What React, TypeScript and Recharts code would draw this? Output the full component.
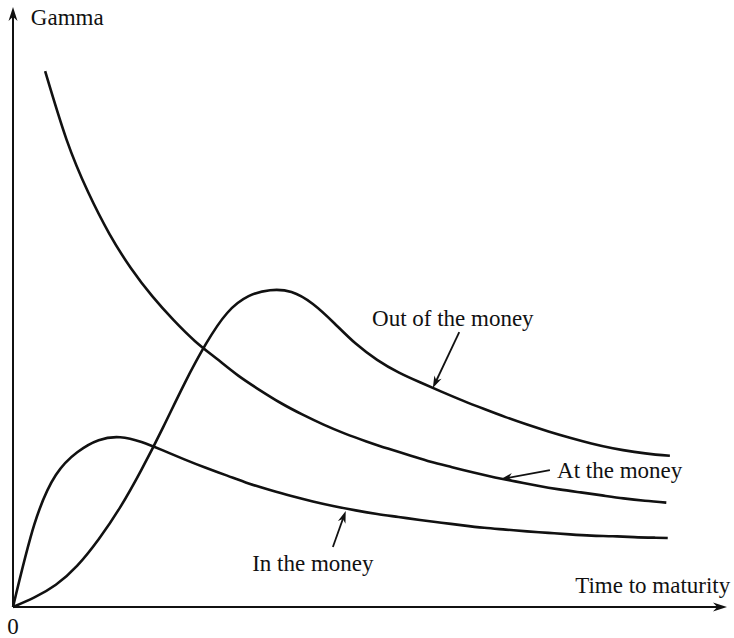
import React from 'react';
import { LineChart, Line, XAxis, YAxis, ReferenceLine, ReferenceDot } from 'recharts';

// time to maturity / gamma, arbitrary units (evenly spaced readings)
const atmTime = [0.45, 0.75, 1.05, 1.35, 1.65, 1.95, 2.25, 2.55, 2.85, 3.15, 3.45, 3.75, 4.05, 4.35, 4.65, 4.95, 5.25, 5.55, 5.85, 6.15, 6.45, 6.75, 7.05, 7.35, 7.65, 7.95, 8.25, 8.55, 8.85, 9.15];
const atmGamma = [8.93, 7.79, 6.92, 6.22, 5.65, 5.18, 4.78, 4.43, 4.14, 3.86, 3.62, 3.4, 3.21, 3.04, 2.89, 2.76, 2.64, 2.53, 2.42, 2.33, 2.24, 2.16, 2.09, 2.02, 1.96, 1.91, 1.86, 1.81, 1.77, 1.74];

const otmTime = [0, 0.3, 0.6, 0.9, 1.2, 1.5, 1.8, 2.1, 2.4, 2.7, 3.0, 3.3, 3.6, 3.9, 4.2, 4.5, 4.8, 5.1, 5.4, 5.7, 6.0, 6.3, 6.6, 6.9, 7.2, 7.5, 7.8, 8.1, 8.4, 8.7, 9.0, 9.2];
const otmGamma = [0, 0.16, 0.37, 0.69, 1.13, 1.66, 2.29, 2.99, 3.72, 4.38, 4.9, 5.18, 5.28, 5.25, 5.05, 4.73, 4.39, 4.12, 3.91, 3.745, 3.59, 3.44, 3.3, 3.165, 3.04, 2.925, 2.82, 2.725, 2.645, 2.585, 2.54, 2.52];

const itmTime = [0, 0.3, 0.6, 0.9, 1.2, 1.5, 1.8, 2.1, 2.4, 2.7, 3.0, 3.3, 3.6, 3.9, 4.2, 4.5, 4.8, 5.1, 5.4, 5.7, 6.0, 6.3, 6.6, 6.9, 7.2, 7.5, 7.8, 8.1, 8.4, 8.7, 9.0, 9.17];
const itmGamma = [0, 1.38, 2.2, 2.58, 2.78, 2.83, 2.75, 2.61, 2.46, 2.32, 2.19, 2.06, 1.95, 1.85, 1.76, 1.68, 1.61, 1.55, 1.5, 1.45, 1.405, 1.36, 1.32, 1.29, 1.26, 1.235, 1.21, 1.19, 1.18, 1.165, 1.155, 1.15];

// annotation arrows: [fromX, fromY, toX, toY]
const arrows = [
  [6.25, 4.58, 5.88, 3.65],
  [7.52, 2.28, 6.83, 2.13],
  [4.48, 1.0, 4.66, 1.6],
];

const labels = [
  { text: 'Gamma', x: 0.25, y: 9.83, anchor: 'start' },
  { text: 'Time to maturity', x: 8.96, y: 0.37, anchor: 'middle' },
  { text: '0', x: 0, y: -0.32, anchor: 'middle' },
  { text: 'Out of the money', x: 6.16, y: 4.82, anchor: 'middle' },
  { text: 'At the money', x: 7.62, y: 2.28, anchor: 'start' },
  { text: 'In the money', x: 4.2, y: 0.73, anchor: 'middle' },
];

const zip = (xs: number[], ys: number[]) => xs.map((t, i) => ({ t, g: ys[i] }));

const INK = '#111';
const FONT = '"Liberation Serif", "Times New Roman", serif';

function arrowShape(headLen: number, halfW: number, width: number) {
  return (props: any) => {
    const { x1, y1, x2, y2 } = props;
    const dx = x2 - x1;
    const dy = y2 - y1;
    const len = Math.sqrt(dx * dx + dy * dy) || 1;
    const ux = dx / len;
    const uy = dy / len;
    const bx = x2 - ux * headLen;
    const by = y2 - uy * headLen;
    const pts = [
      `${x2},${y2}`,
      `${bx - uy * halfW},${by + ux * halfW}`,
      `${x2 - ux * headLen * 0.7},${y2 - uy * headLen * 0.7}`,
      `${bx + uy * halfW},${by - ux * halfW}`,
    ].join(' ');
    return (
      <g>
        <line x1={x1} y1={y1} x2={x2 - ux * headLen * 0.6} y2={y2 - uy * headLen * 0.6} stroke={INK} strokeWidth={width} />
        <polygon points={pts} fill={INK} />
      </g>
    );
  };
}

export default function App() {
  return (
    <div style={{ position: 'absolute', left: 0, top: 0, width: 734, height: 638, background: '#fff' }}>
      <LineChart width={734} height={638} margin={{ top: 7, right: 7, left: 13, bottom: 31 }}>
        <XAxis type="number" dataKey="t" domain={[0, 10]} hide allowDuplicatedCategory={false} />
        <YAxis type="number" dataKey="g" domain={[0, 10]} hide />

        <ReferenceLine segment={[{ x: 0, y: 0 }, { x: 10, y: 0 }]} shape={arrowShape(14, 4.5, 2)} />
        <ReferenceLine segment={[{ x: 0, y: 0 }, { x: 0, y: 10 }]} shape={arrowShape(14, 4.5, 2)} />

        <Line data={zip(atmTime, atmGamma)} dataKey="g" type="natural" stroke={INK} strokeWidth={2.6} dot={false} isAnimationActive={false} />
        <Line data={zip(otmTime, otmGamma)} dataKey="g" type="natural" stroke={INK} strokeWidth={2.6} dot={false} isAnimationActive={false} />
        <Line data={zip(itmTime, itmGamma)} dataKey="g" type="natural" stroke={INK} strokeWidth={2.6} dot={false} isAnimationActive={false} />

        {arrows.map((a, i) => (
          <ReferenceLine key={`ar-${i}`} segment={[{ x: a[0], y: a[1] }, { x: a[2], y: a[3] }]} shape={arrowShape(12, 4, 1.8)} />
        ))}

        {labels.map((l, i) => (
          <ReferenceDot
            key={`lb-${i}`}
            x={l.x}
            y={l.y}
            r={0}
            ifOverflow="visible"
            shape={(p: any) => (
              <text x={p.cx} y={p.cy} dy="0.35em" textAnchor={l.anchor} fontFamily={FONT} fontSize={23} fill={INK}>
                {l.text}
              </text>
            )}
          />
        ))}
      </LineChart>
    </div>
  );
}
